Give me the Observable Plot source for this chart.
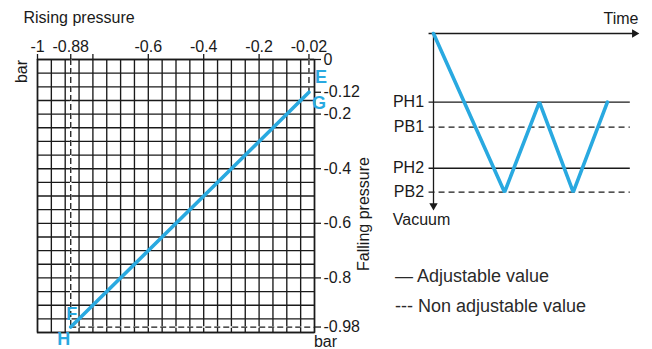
<!DOCTYPE html>
<html><head><meta charset="utf-8">
<script src="https://cdn.jsdelivr.net/npm/d3@7"></script>
<script src="https://cdn.jsdelivr.net/npm/@observablehq/plot@0.6"></script>
<style>
body{margin:0;background:#fff;}
#wrap{position:relative;width:652px;height:349px;font-family:"Liberation Sans",Arial,Helvetica,sans-serif;color:#1a1a1a;}
#wrap svg{position:absolute;left:0;top:0;background:transparent;}
#legend{position:absolute;left:395px;top:261px;font-size:18px;line-height:30px;color:#2a2a2a;white-space:nowrap;}
</style></head>
<body><div id="wrap"><div id="legend"></div></div>
<script>
// ---- Left chart data ----
const xTicks = [-1, -0.88, -0.8, -0.6, -0.4, -0.2, -0.02];
const xTickLabels = ["-1", "-0.88", "", "-0.6", "-0.4", "-0.2", "-0.02"];
const yTicks = [0, -0.12, -0.2, -0.4, -0.6, -0.8, -0.98];
const yTickLabels = ["0", "-0.12", "-0.2", "-0.4", "-0.6", "-0.8", "-0.98"];
const risingPressure = [-0.88, -0.02];   // H/F ... E/G
const fallingPressure = [-0.98, -0.12];
const pointNames = ["F", "H", "E", "G"];

// ---- Right diagram data ----
const levelNames = ["PH1", "PB1", "PH2", "PB2"];
const levelValues = [0.433, 0.59, 0.849, 1.0];
const levelAdjustable = [true, false, true, false];
const cycleTimes = [0, 2.08, 3.1, 4.09, 5.09];
const cycleLevels = [0, 1.0, 0.433, 1.0, 0.433];
const legendLabels = ["\u2014 Adjustable value", "--- Non adjustable value"];

const BLUE = "#29a9e0";
const INK = "#1a1a1a";
const FONT = "'Liberation Sans', Arial, Helvetica, sans-serif";
const FS = 16;

const xLab = new Map(xTicks.map((t, i) => [t, xTickLabels[i]]));
const yLab = new Map(yTicks.map((t, i) => [t, yTickLabels[i]]));

const blueLine = risingPressure.map((x, i) => ({x, y: fallingPressure[i]}));
const lo = blueLine[0], hi = blueLine[1];
const guidesX = [
  {x: lo.x, y1: 0, y2: lo.y},
  {x: hi.x, y1: 0, y2: hi.y}
];
const guidesY = [{y: lo.y, x1: lo.x, x2: 0}];
const ptLabels = [
  {x: lo.x, y: lo.y, t: pointNames[0], dx: 1, dy: -13},
  {x: lo.x, y: lo.y, t: pointNames[1], dx: -7, dy: 12},
  {x: hi.x, y: hi.y, t: pointNames[2], dx: 12, dy: -15},
  {x: hi.x, y: hi.y, t: pointNames[3], dx: 10, dy: 11}
];

const left = Plot.plot({
  width: 652, height: 349,
  marginLeft: 37, marginRight: 338, marginTop: 59, marginBottom: 17,
  style: {fontFamily: FONT, fontSize: FS + "px", color: INK, background: "transparent", overflow: "visible"},
  x: {domain: [-1, 0]},
  y: {domain: [-1, 0]},
  marks: [
    Plot.gridX({interval: 0.05, stroke: INK, strokeOpacity: 1, strokeWidth: 1.35}),
    Plot.gridY({interval: 0.05, stroke: INK, strokeOpacity: 1, strokeWidth: 1.35}),
    Plot.frame({stroke: INK, strokeWidth: 1.5}),
    Plot.axisX({anchor: "top", ticks: xTicks, tickFormat: d => xLab.get(d), tickSize: 6, tickPadding: 2, label: null, fontSize: FS, stroke: INK, strokeWidth: 1.3}),
    Plot.axisY({anchor: "right", ticks: yTicks, tickFormat: d => yLab.get(d), tickSize: 6, tickPadding: 3, label: null, fontSize: FS, stroke: INK, strokeWidth: 1.3}),
    Plot.ruleX(guidesX, {x: "x", y1: "y1", y2: "y2", stroke: "#fff", strokeWidth: 1.6}),
    Plot.ruleX(guidesX, {x: "x", y1: "y1", y2: "y2", stroke: INK, strokeWidth: 1.3, strokeDasharray: "6,3"}),
    Plot.ruleY(guidesY, {y: "y", x1: "x1", x2: "x2", stroke: "#fff", strokeWidth: 1.6}),
    Plot.ruleY(guidesY, {y: "y", x1: "x1", x2: "x2", stroke: INK, strokeWidth: 1.3, strokeDasharray: "6,3"}),
    Plot.line(blueLine, {x: "x", y: "y", stroke: BLUE, strokeWidth: 3.6}),
    ...ptLabels.map(d => Plot.text([d], {x: "x", y: "y", text: "t", dx: d.dx, dy: d.dy, fill: BLUE, fontWeight: "bold", fontSize: 18})),
    Plot.text(["Rising pressure"], {x: -1, y: 0, dx: -14, dy: -42, textAnchor: "start", fill: INK, fontSize: FS}),
    Plot.text(["bar"], {x: -1, y: 0, dx: -16, dy: 12, rotate: -90, fill: INK, fontSize: FS}),
    Plot.text(["bar"], {x: 0, y: -1, dx: 11, dy: 9, fill: INK, fontSize: FS}),
    Plot.text(["Falling pressure"], {frameAnchor: "right", textAnchor: "middle", dx: 49, dy: 18, rotate: -90, fill: INK, fontSize: FS})
  ]
});

const levels = levelNames.map((n, i) => ({n, v: levelValues[i], adj: levelAdjustable[i]}));
const cycle = cycleTimes.map((t, i) => ({t, v: cycleLevels[i]}));
const tEnd = 6, tStart = -0.13, tLevelEnd = 5.76, vAxisEnd = 1.11;

const right = Plot.plot({
  width: 652, height: 349,
  marginLeft: 433, marginRight: 14, marginTop: 33, marginBottom: 157.3,
  style: {fontFamily: FONT, fontSize: FS + "px", color: INK, background: "transparent", overflow: "visible"},
  x: {domain: [0, tEnd], axis: null},
  y: {domain: [0, 1], reverse: true, axis: null},
  marks: [
    Plot.ruleY(levels.filter(d => d.adj), {y: "v", x1: tStart, x2: tLevelEnd, stroke: INK, strokeWidth: 1.3}),
    Plot.ruleY(levels.filter(d => !d.adj), {y: "v", x1: tStart, x2: tLevelEnd, stroke: INK, strokeWidth: 1.3, strokeDasharray: "6,4"}),
    Plot.text(levels, {x: tStart, y: "v", text: "n", dx: -5, textAnchor: "end", fill: INK, fontSize: FS}),
    Plot.ruleY([0], {x1: tStart, x2: tEnd - 0.15, stroke: INK, strokeWidth: 1.3}),
    Plot.dot([{t: tEnd, v: 0}], {x: "t", y: "v", dx: -4, symbol: "triangle2", r: 4, fill: INK, rotate: 90}),
    Plot.ruleX([0], {y1: 0, y2: vAxisEnd - 0.03, stroke: INK, strokeWidth: 1.3}),
    Plot.dot([{t: 0, v: vAxisEnd}], {x: "t", y: "v", dy: -4, symbol: "triangle2", r: 4, fill: INK, rotate: 180}),
    Plot.line(cycle, {x: "t", y: "v", stroke: BLUE, strokeWidth: 3.6, strokeLinejoin: "miter"}),
    Plot.text(["Time"], {x: tEnd, y: 0, dy: -15, textAnchor: "end", fill: INK, fontSize: FS}),
    Plot.text(["Vacuum"], {x: 0, y: 1, dx: -12, dy: 28, fill: INK, fontSize: FS})
  ]
});

const wrap = document.getElementById("wrap");
wrap.appendChild(left);
wrap.appendChild(right);
document.getElementById("legend").innerHTML = legendLabels.map(s => `<div>${s}</div>`).join("");
</script>
</body></html>
